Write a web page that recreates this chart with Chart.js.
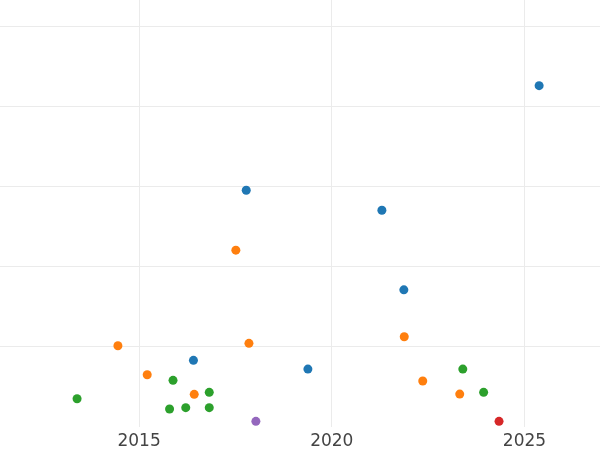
<!DOCTYPE html>
<html>
<head>
<meta charset="utf-8">
<script src="https://cdn.jsdelivr.net/npm/chart.js@4"></script>
<style>
  html, body { margin: 0; padding: 0; background: #fff; }
  .wrap { width: 600px; height: 450px; position: relative; }
</style>
</head>
<body>
<div class="wrap"><canvas id="myChart"></canvas></div>
<script>
// series values: [year, value]
const seriesNames = ['A', 'B', 'C', 'D', 'E'];
const seriesColors = ['#1f77b4', '#ff7f0e', '#2ca02c', '#d62728', '#9467bd'];

const blueX = [2017.78, 2025.38, 2021.30, 2021.87, 2016.41, 2019.38];
const blueY = [2.955, 4.261, 2.706, 1.712, 0.832, 0.723];

const orangeX = [2017.51, 2014.45, 2017.85, 2015.21, 2016.43, 2021.88, 2022.36, 2023.32];
const orangeY = [2.207, 1.014, 1.044, 0.652, 0.408, 1.126, 0.574, 0.411];

const greenX = [2015.88, 2013.39, 2016.82, 2015.79, 2016.21, 2016.82, 2023.40, 2023.94];
const greenY = [0.582, 0.353, 0.433, 0.224, 0.241, 0.241, 0.723, 0.433];

const redX = [2024.34];
const redY = [0.071];

const purpleX = [2018.03];
const purpleY = [0.071];

const xTicks = [2015, 2020, 2025];
const yTicks = [1, 2, 3, 4, 5];

function toPoints(xs, ys) {
  return xs.map((x, i) => ({ x: x, y: ys[i] }));
}

const allX = [blueX, orangeX, greenX, redX, purpleX];
const allY = [blueY, orangeY, greenY, redY, purpleY];

const datasets = allX.map((xs, i) => ({
  label: seriesNames[i],
  data: toPoints(xs, allY[i]),
  backgroundColor: seriesColors[i],
  borderColor: seriesColors[i],
  borderWidth: 0,
  pointRadius: 4.5,
  pointHoverRadius: 5
}));

const ctx = document.getElementById('myChart');
new Chart(ctx, {
  type: 'scatter',
  data: { datasets: datasets },
  options: {
    responsive: true,
    maintainAspectRatio: false,
    animation: false,
    layout: { padding: 0, autoPadding: false },
    plugins: {
      legend: { display: false },
      tooltip: { enabled: false }
    },
    scales: {
      x: {
        type: 'linear',
        min: 2011.39,
        max: 2026.96,
        afterBuildTicks: axis => { axis.ticks = xTicks.map(v => ({ value: v })); },
        afterFit: axis => { axis.height = 23; },
        grid: { color: '#ebebeb', lineWidth: 1, drawTicks: false },
        border: { display: false },
        ticks: {
          padding: 4,
          color: '#444',
          maxRotation: 0,
          font: { family: 'DejaVu Sans', size: 17 },
          callback: v => String(v)
        }
      },
      y: {
        type: 'linear',
        min: 0,
        max: 5.33,
        afterBuildTicks: axis => { axis.ticks = yTicks.map(v => ({ value: v })); },
        grid: { color: '#ebebeb', lineWidth: 1, drawTicks: false },
        border: { display: false },
        ticks: { display: false, padding: 0 }
      }
    }
  }
});
</script>
</body>
</html>
